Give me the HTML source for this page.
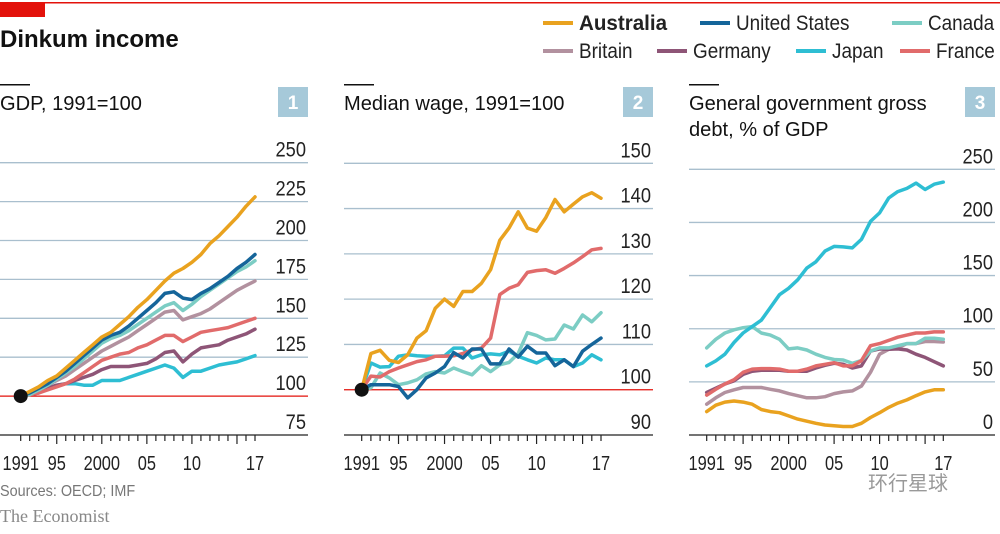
<!DOCTYPE html>
<html><head><meta charset="utf-8"><style>
body{margin:0;background:#fff;width:1000px;height:529px;overflow:hidden;font-family:"Liberation Sans",sans-serif}
svg text{font-family:"Liberation Sans",sans-serif}
</style></head><body>
<svg id="c" width="1000" height="529" xmlns="http://www.w3.org/2000/svg">
<rect x="0" y="2" width="1000" height="1.5" fill="#e3120b"/>
<rect x="0" y="3" width="45" height="14" fill="#e3120b"/>
<text x="0" y="47" font-size="24" font-weight="bold" fill="#111">Dinkum income</text>
<g id="legend"></g>
<g id="panels"></g>
<text transform="translate(0,496) scale(0.9,1)" font-size="16" fill="#777">Sources: OECD; IMF</text>
<text x="0" y="522" font-size="18" fill="#888" style="font-family:'Liberation Serif',serif">The Economist</text>
<text x="868" y="490" font-size="20" fill="#999" style="font-family:'Noto Sans CJK SC',sans-serif">环行星球</text>
</svg>
<script>
const NS="http://www.w3.org/2000/svg";
const years=[1991,1992,1993,1994,1995,1996,1997,1998,1999,2000,2001,2002,2003,2004,2005,2006,2007,2008,2009,2010,2011,2012,2013,2014,2015,2016,2017];
const countries=["Australia","United States","Canada","Britain","Germany","Japan","France"];
const colors={"Australia":"#e9a21f","United States":"#15659a","Canada":"#7ccdc4","Britain":"#b2919f","Germany":"#8e5577","Japan":"#2ebed3","France":"#e16b6b"};
const gdpTicks=[75,100,125,150,175,200,225,250];
const wageTicks=[90,100,110,120,130,140,150];
const debtTicks=[0,50,100,150,200,250];
const xTickLabels=["1991","95","2000","05","10","17"];
const xTickYears=[1991,1995,2000,2005,2010,2017];
const gdpAustralia=[100,103,106,110,113,118,123,128,133,138,141,146,151,157,162,168,174,179,182,186,191,198,203,209,215,222,228];
const gdpUS=[100,102,105,108,112,116,121,126,131,136,139,141,145,150,155,160,166,167,163,162,166,169,173,177,182,186,191];
const gdpCanada=[100,101,104,107,111,115,119,124,129,134,137,139,142,146,150,154,158,160,155,159,164,168,172,176,180,183,187];
const gdpBritain=[100,101,104,107,110,113,117,121,125,129,132,135,138,142,146,150,154,155,149,151,153,156,160,164,168,171,174];
const gdpGermany=[100,102,103,105,107,108,110,112,114,117,119,119,119,120,121,124,128,129,122,127,131,132,133,136,138,140,143];
const gdpJapan=[100,101,102,105,107,108,108,107,107,110,110,110,112,114,116,118,120,118,112,116,116,118,120,121,122,124,126];
const gdpFrance=[100,101,102,104,106,108,111,115,119,123,125,127,128,131,133,136,139,139,135,138,141,142,143,144,146,148,150];
const wageAustralia=[100,108,108.7,106.5,106,107.7,111.4,113,118,120,118.4,121.7,121.7,123.5,126.5,133,135.7,139.3,135.7,135,138,142,139.3,141,142.6,143.5,142.3];
const wageUS=[100,101.1,101.1,101.1,100.7,98.2,100,102.6,103.7,105.1,108.2,107,109,109,105.7,105.7,109,107.2,109.6,108.1,108.1,105.3,106.6,105.1,108.5,110,111.4];
const wageCanada=[100,100.4,103.7,102.6,101.1,101.5,102.2,103.5,104,103.7,104.8,104,103.3,105.3,104,105.5,106,108,112.6,112,111,111.2,114.3,113.4,116.5,115,117];
const wageJapan=[100,105.9,105,105.1,107.4,107.7,107.5,107.4,107.4,107.5,109.2,109.2,107,107.7,107.9,107.7,108.5,107.4,106.6,105.9,107,106.6,106.6,105.1,105.9,107.7,106.6];
const wageFrance=[100,103,102.8,104,104.8,105.5,106.2,106.6,107.4,107.4,107.5,108,108.8,109.2,111.4,121,122.4,123.2,125.9,126.3,126.5,125.7,126.8,128,129.4,130.9,131.2];
const debtAustralia=[22,28,31,32,31,29,24,22,21,18,15,13,11,9.4,8.7,8,8,11,16.5,21,26,30,33,37,40.6,42.5,42.5];
const debtCanada=[82,90,96,99,101,102,96,94,90,81,82,80,76,73,71,70.6,67.5,70,79,82,82,84,86,86,91,91,90];
const debtBritain=[29,35,40,42.5,44.7,44.7,44.7,43,41.5,39,37,35,35,36,39,40.6,41.5,46,59,76,80.6,82,86,86,88,88,87.5];
const debtGermany=[40,44,48,51,57,60,61,61,61,60,60,60,63,65.6,67.5,66.5,63,65,79,81,80.6,81,80,76,73,69,65];
const debtJapan=[65,69.7,76,87,96,102,108,120,132,138,146,157,163,173,177.5,177,176,184,201,209,223,229,232,237,231,236,238];
const debtFrance=[37.5,43,48,52,59,62,62.5,62.5,62,60,60,62,65,66.5,68,65,65,70,84,86,89,92,94,96,96,97,97];

function el(tag,attrs,parent){const e=document.createElementNS(NS,tag);for(const k in attrs)e.setAttribute(k,attrs[k]);parent.appendChild(e);return e;}
function ntext(x,y,sx,attrs,parent,str){const t=el('text',Object.assign({transform:`translate(${x},${y}) scale(${sx},1)`},attrs),parent);t.textContent=str;return t;}

// legend
const legendPos=[[543,30],[700,30],[892,30],[543,58],[657,58],[796,58],[900,58]];
const lg=document.getElementById('legend');
countries.forEach((c,i)=>{
  const [x,y]=legendPos[i];
  const g=el('g',{},lg);
  
  
  el('rect',{x:x,y:y-9,width:30,height:4,fill:colors[c]},g);
  ntext(x+36,y,i==0?0.98:0.9,{'font-size':21,fill:'#222','font-weight':i==0?'bold':'normal'},g,c);
});

const panels=[
 {name:'gdp',title:['GDP, 1991=100'],num:'1',x0:0,gx1:308,xa:20.7,xb:255,ticks:gdpTicks,vmin:75,vmax:250,ytop:162.7,ref:100,
  series:{"Australia":gdpAustralia,"United States":gdpUS,"Canada":gdpCanada,"Britain":gdpBritain,"Germany":gdpGermany,"Japan":gdpJapan,"France":gdpFrance},
  order:["Japan","Germany","France","Britain","Canada","United States","Australia"],dot:true},
 {name:'median-wage',title:['Median wage, 1991=100'],num:'2',x0:344,gx1:653,xa:361.7,xb:601,ticks:wageTicks,vmin:90,vmax:150,ytop:163.3,ref:100,
  series:{"Australia":wageAustralia,"United States":wageUS,"Canada":wageCanada,"Japan":wageJapan,"France":wageFrance},
  order:["Canada","Japan","France","United States","Australia"],dot:true},
 {name:'government-debt',title:['General government gross','debt, % of GDP'],num:'3',x0:689,gx1:995,xa:706.7,xb:943.3,ticks:debtTicks,vmin:0,vmax:250,ytop:169.3,ref:null,
  series:{"Australia":debtAustralia,"Canada":debtCanada,"Britain":debtBritain,"Germany":debtGermany,"Japan":debtJapan,"France":debtFrance},
  order:["Britain","Germany","Canada","France","Australia","Japan"],dot:false}
];
const YB=435;
const pg=document.getElementById('panels');
panels.forEach(p=>{
  const g=el('g',{},pg);
  
  
  const y=v=>YB-(v-p.vmin)/(p.vmax-p.vmin)*(YB-p.ytop);
  const x=yr=>p.xa+(yr-1991)/(2017-1991)*(p.xb-p.xa);
  const bar=el('rect',{x:p.x0,y:84,width:30,height:1.5,fill:'#111'},g);
  
  
  p.title.forEach((t,i)=>{const tt=ntext(p.x0,110+i*26,0.98,{'font-size':20.5,fill:'#111'},g,t);
    
    });
  const bx=el('rect',{x:p.gx1-30,y:87,width:30,height:30,fill:'#a6c9d9'},g);
  
  
  const bt=el('text',{x:p.gx1-15,y:109,'font-size':19,'font-weight':'bold',fill:'#fff','text-anchor':'middle'},g);bt.textContent=p.num;
  
  
  p.ticks.forEach(t=>{
    if(t!==p.vmin && t!==p.ref){const l=el('line',{x1:p.x0,x2:p.gx1,y1:y(t),y2:y(t),stroke:'#a9bfce','stroke-width':1.3},g);
      
      }
    const lt=ntext(p.gx1-2,y(t)-6,0.87,{'font-size':21,fill:'#222','text-anchor':'end'},g,String(t));
    
    
  });
  if(p.ref!==null){const r=el('line',{x1:p.x0,x2:p.gx1,y1:y(p.ref),y2:y(p.ref),stroke:'#e3120b','stroke-width':1.3},g);
    
    }
  const ax=el('line',{x1:p.x0,x2:p.gx1,y1:YB,y2:YB,stroke:'#222','stroke-width':1.3},g);
  
  
  years.forEach(yr=>{const maj=yr%5==0;
    const tk=el('line',{x1:x(yr),x2:x(yr),y1:YB,y2:YB+(maj?9:6),stroke:'#222','stroke-width':1.2},g);
    
    });
  xTickYears.forEach((yr,i)=>{const t=ntext(x(yr),470,0.82,{'font-size':20,fill:'#222','text-anchor':'middle'},g,xTickLabels[i]);
    
    });
  p.order.forEach(c=>{
    const d=p.series[c];
    const pts=d.map((v,i)=>x(years[i]).toFixed(1)+','+y(v).toFixed(1)).join(' ');
    const pl=el('polyline',{points:pts,fill:'none',stroke:colors[c],'stroke-width':3.5,'stroke-linejoin':'round','stroke-linecap':'round'},g);
    
    
  });
  if(p.dot){const dt=el('circle',{cx:x(1991),cy:y(100),r:7,fill:'#111'},g);
    
    }
});
</script>
</body></html>
